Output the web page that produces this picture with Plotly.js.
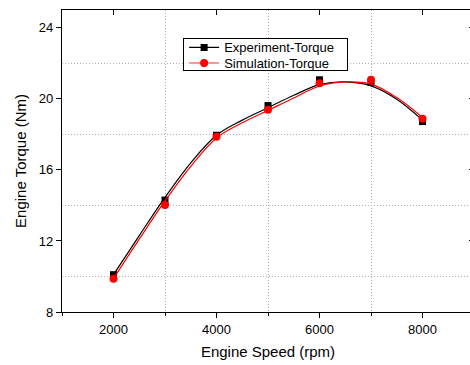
<!DOCTYPE html>
<html>
<head>
<meta charset="utf-8">
<script src="https://cdn.plot.ly/plotly-3.0.1.min.js"></script>
<style>
html,body{margin:0;padding:0;overflow:hidden;background:#fff;}
#chart{width:476px;height:365px;}
</style>
</head>
<body>
<div id="chart"></div>
<script>
// Measured data points
const speed = [2000, 3000, 4000, 5000, 6000, 7000, 8000];
const expTorque = [10.1, 14.3, 17.95, 19.62, 21.07, 20.92, 18.72];
const simTorque = [9.87, 14.03, 17.86, 19.38, 20.88, 21.08, 18.88];

// Smooth fitted curves
const fitSpeed = [2000, 2500, 3000, 3500, 4000, 4500, 5000, 5500, 6000, 6500, 7000, 7500, 8000];
const expFit = [10.1, 12.3, 14.45, 16.4, 17.95, 18.8, 19.5, 20.2, 20.8, 20.95, 20.73, 19.98, 18.8];
const simFit = [9.88, 12.1, 14.25, 16.2, 17.8, 18.65, 19.35, 20.05, 20.72, 20.95, 20.83, 20.07, 18.95];

const seriesNames = ['Experiment-Torque', 'Simulation-Torque'];
const xTitle = 'Engine Speed (rpm)';
const yTitle = 'Engine Torque (Nm)';

const FONT = 'Liberation Sans, Arial, sans-serif';

const traces = [
  {x: fitSpeed, y: expFit, mode: 'lines', line: {color: '#000', width: 1.2, shape: 'spline', smoothing: 1}, showlegend: false, hoverinfo: 'skip'},
  {x: speed, y: expTorque, mode: 'markers', marker: {symbol: 'square', size: 7, color: '#000'}, showlegend: false},
  {x: fitSpeed, y: simFit, mode: 'lines', line: {color: '#ff0000', width: 1.2, shape: 'spline', smoothing: 1}, showlegend: false, hoverinfo: 'skip'},
  {x: speed, y: simTorque, mode: 'markers', marker: {symbol: 'circle', size: 8, color: '#ff0000'}, showlegend: false},
  {x: [null], y: [null], xaxis: 'x2', yaxis: 'y2', name: seriesNames[0], mode: 'lines+markers',
   line: {color: '#000', width: 1.2}, marker: {symbol: 'square', size: 7, color: '#000'}},
  {x: [null], y: [null], xaxis: 'x2', yaxis: 'y2', name: seriesNames[1], mode: 'lines+markers',
   line: {color: '#ff3030', width: 1.2}, marker: {symbol: 'circle', size: 8, color: '#ff0000'}}
];

const gridStyle = {showgrid: true, gridcolor: '#b0b0b0', griddash: '1px,2px', gridwidth: 1};

const layout = {
  width: 476, height: 365,
  margin: {l: 62, r: 2, t: 10, b: 53},
  paper_bgcolor: '#fff', plot_bgcolor: '#fff',
  font: {family: FONT, size: 13, color: '#000'},
  showlegend: true,
  legend: {
    x: 0.294, y: 0.906, xanchor: 'left', yanchor: 'top',
    bordercolor: '#000', borderwidth: 1, bgcolor: '#fff',
    font: {family: FONT, size: 13, color: '#000'},
    tracegroupgap: 0
  },
  xaxis: {
    range: [1000, 9000], tick0: 0, dtick: 2000,
    ticks: 'outside', ticklen: 5, tickwidth: 1, tickcolor: '#000',
    showline: true, linecolor: '#000', linewidth: 1.2,
    showgrid: false, zeroline: false,
    minor: Object.assign({dtick: 1000, ticks: 'outside', ticklen: 3, tickcolor: '#000'}, gridStyle),
    tickfont: {family: FONT, size: 13, color: '#000'},
    title: {text: xTitle, font: {family: FONT, size: 15, color: '#000'}, standoff: 10}
  },
  yaxis: {
    range: [8, 25], tick0: 8, dtick: 4,
    ticks: 'outside', ticklen: 5, tickwidth: 1, tickcolor: '#000',
    showline: true, linecolor: '#000', linewidth: 1.2,
    showgrid: false, zeroline: false,
    minor: Object.assign({dtick: 2, ticks: ''}, gridStyle),
    tickfont: {family: FONT, size: 13, color: '#000'},
    title: {text: yTitle, font: {family: FONT, size: 15, color: '#000'}, standoff: 8}
  },
  xaxis2: {
    overlaying: 'x', side: 'top', range: [1000, 9000], tick0: 0, dtick: 2000,
    ticks: 'inside', ticklen: 5, tickcolor: '#000', showticklabels: false,
    showline: true, linecolor: '#000', linewidth: 1.2, showgrid: false, zeroline: false
  },
  yaxis2: {
    overlaying: 'y', side: 'right', range: [8, 25], tick0: 8, dtick: 4,
    ticks: 'inside', ticklen: 5, tickcolor: '#000', showticklabels: false,
    showline: true, linecolor: '#000', linewidth: 1.2, showgrid: false, zeroline: false
  }
};

Plotly.newPlot('chart', traces, layout, {displayModeBar: false, staticPlot: true}).then(function (gd) {
  // tighten legend rows to match the compact reference legend
  const leg = gd.querySelector('.legend');
  if (!leg) return;
  const items = leg.querySelectorAll('.traces');
  const rowTop = 9, rowGap = 15.6;
  items.forEach(function (el, i) {
    const t = el.getAttribute('transform') || '';
    const m = t.match(/translate\(([-\d.]+)[ ,]*([-\d.]+)?\)/);
    const x = m ? parseFloat(m[1]) : 0;
    el.setAttribute('transform', 'translate(' + x + ',' + (rowTop + i * rowGap) + ')');
  });
  const bg = leg.querySelector('rect.bg');
  if (bg) {
    bg.setAttribute('height', 31.5);
    bg.setAttribute('width', 164);
  }
});
</script>
</body>
</html>
